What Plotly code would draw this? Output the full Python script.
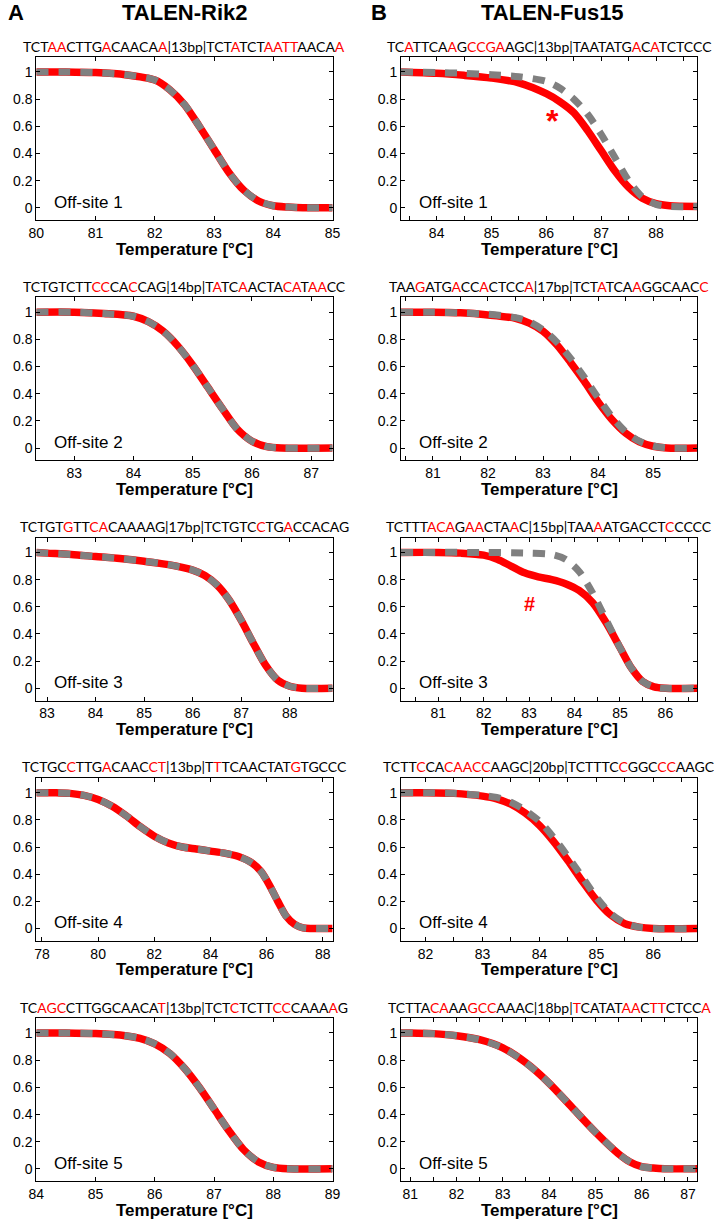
import plotly.graph_objects as go

W, H = 714, 1223

# ---------------- data ----------------
# Column A: TALEN-Rik2
a1_temp = [80, 80.5, 81, 81.5, 82, 82.25, 82.5, 82.75, 83, 83.25, 83.5, 83.75, 84, 84.25, 84.5, 85]
a1_rfu = [1, 1, 0.995, 0.98, 0.94, 0.87, 0.76, 0.6, 0.43, 0.26, 0.13, 0.05, 0.015, 0.005, 0, 0]

a2_temp = [82.36, 83, 83.5, 84, 84.25, 84.5, 84.75, 85, 85.25, 85.5, 85.75, 86, 86.25, 86.5, 87.36]
a2_rfu = [1, 1, 0.99, 0.97, 0.93, 0.86, 0.75, 0.61, 0.45, 0.29, 0.14, 0.05, 0.01, 0, 0]

a3_temp = [82.78, 83, 83.5, 84, 84.5, 85, 85.5, 86, 86.25, 86.5, 86.75, 87, 87.25, 87.5, 87.75, 88, 88.25, 88.88]
a3_rfu = [1, 0.995, 0.985, 0.97, 0.955, 0.935, 0.91, 0.87, 0.83, 0.76, 0.65, 0.5, 0.33, 0.17, 0.06, 0.015, 0, 0]

a4_temp = [77.8, 78.5, 79, 79.5, 80, 80.5, 81, 81.5, 82, 82.5, 83, 83.5, 84, 84.5, 85, 85.5, 85.8, 86.1, 86.4, 86.7, 87, 87.3, 87.6, 88.35]
a4_rfu = [1, 1, 0.995, 0.98, 0.95, 0.9, 0.83, 0.75, 0.68, 0.63, 0.6, 0.585, 0.57, 0.555, 0.53, 0.48, 0.42, 0.32, 0.2, 0.09, 0.03, 0.005, 0, 0]

a5_temp = [84, 84.5, 85, 85.5, 85.75, 86, 86.25, 86.5, 86.75, 87, 87.25, 87.5, 87.75, 88, 88.25, 89]
a5_rfu = [1, 1, 0.995, 0.98, 0.96, 0.92, 0.85, 0.74, 0.6, 0.44, 0.28, 0.14, 0.05, 0.01, 0, 0]

# Column B: TALEN-Fus15 (red = solid, gray = dashed)
b1_temp_red = [83.35, 84, 84.5, 85, 85.5, 86, 86.25, 86.5, 86.75, 87, 87.25, 87.5, 87.75, 88, 88.25, 88.75]
b1_rfu_red = [1, 0.99, 0.975, 0.955, 0.92, 0.84, 0.78, 0.7, 0.57, 0.42, 0.27, 0.15, 0.07, 0.03, 0.015, 0.01]
b1_temp_gray = [83.35, 84, 84.5, 85, 85.5, 86, 86.25, 86.5, 86.75, 87, 87.25, 87.5, 87.75, 88, 88.25, 88.75]
b1_rfu_gray = [1, 0.995, 0.99, 0.98, 0.965, 0.93, 0.88, 0.8, 0.69, 0.54, 0.37, 0.2, 0.08, 0.025, 0.01, 0.01]

b2_temp = [80.42, 81, 81.5, 82, 82.5, 82.75, 83, 83.25, 83.5, 83.75, 84, 84.25, 84.5, 84.75, 85, 85.25, 85.8]
b2_rfu_red = [1, 1, 0.995, 0.98, 0.955, 0.92, 0.86, 0.76, 0.63, 0.49, 0.34, 0.21, 0.11, 0.045, 0.013, 0, 0]
b2_rfu_gray = [1, 1, 0.995, 0.985, 0.96, 0.93, 0.87, 0.78, 0.66, 0.52, 0.37, 0.23, 0.12, 0.05, 0.015, 0, 0]

b3_temp_red = [80.18, 81, 81.5, 82, 82.3, 82.6, 82.9, 83.2, 83.5, 83.8, 84.1, 84.4, 84.7, 85, 85.25, 85.5, 85.75, 86, 86.7]
b3_rfu_red = [1, 1, 0.995, 0.98, 0.95, 0.9, 0.85, 0.82, 0.8, 0.77, 0.72, 0.63, 0.48, 0.3, 0.15, 0.05, 0.01, 0, 0]
b3_temp_gray = [80.18, 82, 83, 83.5, 83.8, 84.1, 84.4, 84.7, 85, 85.25, 85.5, 85.75, 86, 86.7]
b3_rfu_gray = [1, 1, 0.995, 0.985, 0.95, 0.86, 0.7, 0.5, 0.3, 0.15, 0.05, 0.01, 0, 0]

b4_temp = [81.57, 82, 82.5, 83, 83.25, 83.5, 83.75, 84, 84.25, 84.5, 84.75, 85, 85.25, 85.5, 85.75, 86, 86.77]
b4_rfu_red = [1, 1, 0.995, 0.975, 0.955, 0.915, 0.85, 0.76, 0.64, 0.5, 0.35, 0.21, 0.1, 0.035, 0.01, 0, 0]
b4_rfu_gray = [1, 1, 0.995, 0.98, 0.965, 0.93, 0.87, 0.79, 0.67, 0.53, 0.38, 0.23, 0.11, 0.04, 0.01, 0, 0]

b5_temp = [80.8, 81, 81.5, 82, 82.5, 83, 83.5, 84, 84.5, 85, 85.5, 85.75, 86, 86.25, 86.5, 87.2]
b5_rfu = [1, 1, 0.995, 0.98, 0.95, 0.89, 0.78, 0.63, 0.45, 0.27, 0.11, 0.05, 0.015, 0.005, 0, 0]

# axis ranges / ticks
a_ranges = [[80, 85], [82.36, 87.36], [82.78, 88.88], [77.8, 88.35], [84, 89]]
b_ranges = [[83.35, 88.75], [80.42, 85.8], [80.18, 86.7], [81.57, 86.77], [80.8, 87.2]]
a_dticks = [1, 1, 1, 2, 1]
b_dticks = [1, 1, 1, 1, 1]
y_ticks = [0, 0.2, 0.4, 0.6, 0.8, 1]
y_ticklabels = ["0", "0.2", "0.4", "0.6", "0.8", "1"]

# sequences: left half-site, spacer, right half-site, mismatch (red) positions
a_seq_left = ["TCTAACTTGACAACAA", "TCTGTCTTCCCACCAG", "TCTGTGTTCACAAAAG", "TCTGCCTTGACAACCT", "TCAGCCTTGGCAACAT"]
a_spacer = ["13bp", "14bp", "17bp", "13bp", "13bp"]
a_seq_right = ["TCTATCTAATTAACAA", "TATCAACTACATAACC", "TCTGTCCTGACCACAG", "TTTCAACTATGTGCCC", "TCTCTCTTCCCAAAAG"]
a_red_left = [[3, 4, 9, 15], [8, 9, 12], [5, 8, 9], [5, 9, 14, 15], [2, 3, 4, 15]]
a_red_right = [[3, 7, 8, 9, 10, 15], [1, 4, 9, 10, 12, 13], [6, 9], [1, 10], [3, 8, 9, 14]]

b_seq_left = ["TCATTCAAGCCGAAGC", "TAAGATGACCACTCCA", "TCTTTACAGAACTAAC", "TCTTCCACAACCAAGC", "TCTTACAAAGCCAAAC"]
b_spacer = ["13bp", "17bp", "15bp", "20bp", "18bp"]
b_seq_right = ["TAATATGACATCTCCC", "TCTATCAAGGCAACC", "TAAAATGACCTCCCCC", "TCTTTCCGGCCCAAGC", "TCATATAACTTCTCCA"]
b_red_left = [[2, 7, 9, 10, 11, 12], [3, 7, 10, 15], [5, 6, 7, 9, 10, 14], [4, 7, 8, 9, 10, 11], [5, 6, 9, 10, 11]]
b_red_right = [[7, 9], [3, 7, 14], [3, 11], [6, 10, 11], [0, 6, 7, 9, 10, 15]]

off_labels = ["Off-site 1", "Off-site 2", "Off-site 3", "Off-site 4", "Off-site 5"]
col_titles = ["TALEN-Rik2", "TALEN-Fus15"]
col_letters = ["A", "B"]

# marks: (x temperature, y value, text)
b1_mark = (86.12, 0.64, "*")
b3_mark = (83.0, 0.62, "#")

RED = "#ff0000"
GRAY = "#808080"
FONT = "Liberation Sans, Arial, sans-serif"
SEQ_FONT = "Lato, Carlito, Calibri, sans-serif"

# ---------------- layout geometry (pixels) ----------------
col_x = [(29, 332), (402, 705)]
row_top0, row_bot0, row_step = 57, 220, 240.25


def xdom(c):
    return [col_x[c][0] / W, col_x[c][1] / W]


def ydom(r):
    top = row_top0 + r * row_step
    bot = row_bot0 + r * row_step
    return [1 - bot / H, 1 - top / H]


def colored(seq, reds):
    out = []
    for i, ch in enumerate(seq):
        if i in reds:
            out.append("<span style='color:%s'>%s</span>" % (RED, ch))
        else:
            out.append(ch)
    return "".join(out)


fig = go.Figure()
annotations = []
layout = {}

curves_a = [(a1_temp, a1_rfu, a1_temp, a1_rfu), (a2_temp, a2_rfu, a2_temp, a2_rfu),
            (a3_temp, a3_rfu, a3_temp, a3_rfu), (a4_temp, a4_rfu, a4_temp, a4_rfu),
            (a5_temp, a5_rfu, a5_temp, a5_rfu)]
curves_b = [(b1_temp_red, b1_rfu_red, b1_temp_gray, b1_rfu_gray),
            (b2_temp, b2_rfu_red, b2_temp, b2_rfu_gray),
            (b3_temp_red, b3_rfu_red, b3_temp_gray, b3_rfu_gray),
            (b4_temp, b4_rfu_red, b4_temp, b4_rfu_gray),
            (b5_temp, b5_rfu, b5_temp, b5_rfu)]

idx = 0
for c in range(2):
    curves = curves_a if c == 0 else curves_b
    ranges = a_ranges if c == 0 else b_ranges
    dticks = a_dticks if c == 0 else b_dticks
    sl = a_seq_left if c == 0 else b_seq_left
    sp = a_spacer if c == 0 else b_spacer
    sr = a_seq_right if c == 0 else b_seq_right
    rl = a_red_left if c == 0 else b_red_left
    rr = a_red_right if c == 0 else b_red_right
    for r in range(5):
        idx += 1
        xa = "x" if idx == 1 else "x%d" % idx
        ya = "y" if idx == 1 else "y%d" % idx
        xr_t, yr_v, xg_t, yg_v = curves[r]
        fig.add_trace(go.Scatter(x=xr_t, y=yr_v, mode="lines", xaxis=xa, yaxis=ya,
                                 line=dict(color=RED, width=7.5, shape="spline", smoothing=0.8),
                                 showlegend=False, hoverinfo="skip"))
        fig.add_trace(go.Scatter(x=xg_t, y=yg_v, mode="lines", xaxis=xa, yaxis=ya,
                                 line=dict(color=GRAY, width=7, dash="12px,10px", shape="spline", smoothing=0.8),
                                 showlegend=False, hoverinfo="skip"))
        lo, hi = ranges[r]
        d = dticks[r]
        start = int(lo) if lo == int(lo) else int(lo) + 1
        if d == 2 and start % 2:
            start += 1
        tv = list(range(start, int(hi) + 1, d))
        axis_common = dict(showline=True, linecolor="black", linewidth=1, mirror="ticks",
                           ticks="inside", ticklen=4, tickcolor="black", showgrid=False,
                           zeroline=False, tickfont=dict(family=FONT, size=14, color="black"))
        xax = dict(domain=xdom(c), anchor=ya, range=[lo, hi], tickvals=tv,
                   ticktext=[str(v) for v in tv], **axis_common)
        if c == 1:
            xax["minor"] = dict(dtick=0.5, tick0=0, ticks="inside", ticklen=4, tickcolor="black", showgrid=False)
        layout["xaxis" if idx == 1 else "xaxis%d" % idx] = xax
        layout["yaxis" if idx == 1 else "yaxis%d" % idx] = dict(
            domain=ydom(r), anchor=xa, range=[-0.09, 1.11], tickvals=y_ticks,
            ticktext=y_ticklabels, **axis_common)
        xdref = xa + " domain"
        ydref = ya + " domain"
        seq_text = colored(sl[r], rl[r]) + "|" + sp[r] + "|" + colored(sr[r], rr[r])
        annotations.append(dict(text=seq_text, xref=xdref, yref=ydref, x=0.5, y=1,
                                xanchor="center", yanchor="middle", yshift=11, showarrow=False,
                                font=dict(family=SEQ_FONT, size=14, color="black")))
        annotations.append(dict(text="<b>Temperature [°C]</b>", xref=xdref, yref=ydref, x=0.5, y=0,
                                xanchor="center", yanchor="middle", yshift=-29, showarrow=False,
                                font=dict(family=FONT, size=17, color="black")))
        annotations.append(dict(text=off_labels[r], xref=xdref, yref=ydref, x=0, y=0,
                                xanchor="left", yanchor="middle", xshift=16, yshift=18, showarrow=False,
                                font=dict(family=FONT, size=17, color="black")))
        if c == 1 and r == 0:
            annotations.append(dict(text="<b>%s</b>" % b1_mark[2], xref=xa, yref=ya, x=b1_mark[0], y=b1_mark[1],
                                    showarrow=False, font=dict(family=FONT, size=32, color=RED)))
        if c == 1 and r == 2:
            annotations.append(dict(text="<b>%s</b>" % b3_mark[2], xref=xa, yref=ya, x=b3_mark[0], y=b3_mark[1],
                                    showarrow=False, font=dict(family=FONT, size=20, color=RED)))

# column titles and letters
for txt, cx in [(col_titles[0], 181), (col_titles[1], 557), (col_letters[0], 8), (col_letters[1], 380)]:
    annotations.append(dict(text="<b>%s</b>" % txt, xref="paper", yref="paper", x=cx / W, y=1 - 12 / H,
                            xanchor="center", yanchor="middle", showarrow=False,
                            font=dict(family=FONT, size=22, color="black")))

fig.update_layout(width=W, height=H, margin=dict(l=0, r=0, t=0, b=0),
                  paper_bgcolor="white", plot_bgcolor="white",
                  annotations=annotations, **layout)

fig.write_html("out.html", config={"displayModeBar": False},
               post_script="document.body.style.margin='0px';document.body.style.overflow='hidden';")
